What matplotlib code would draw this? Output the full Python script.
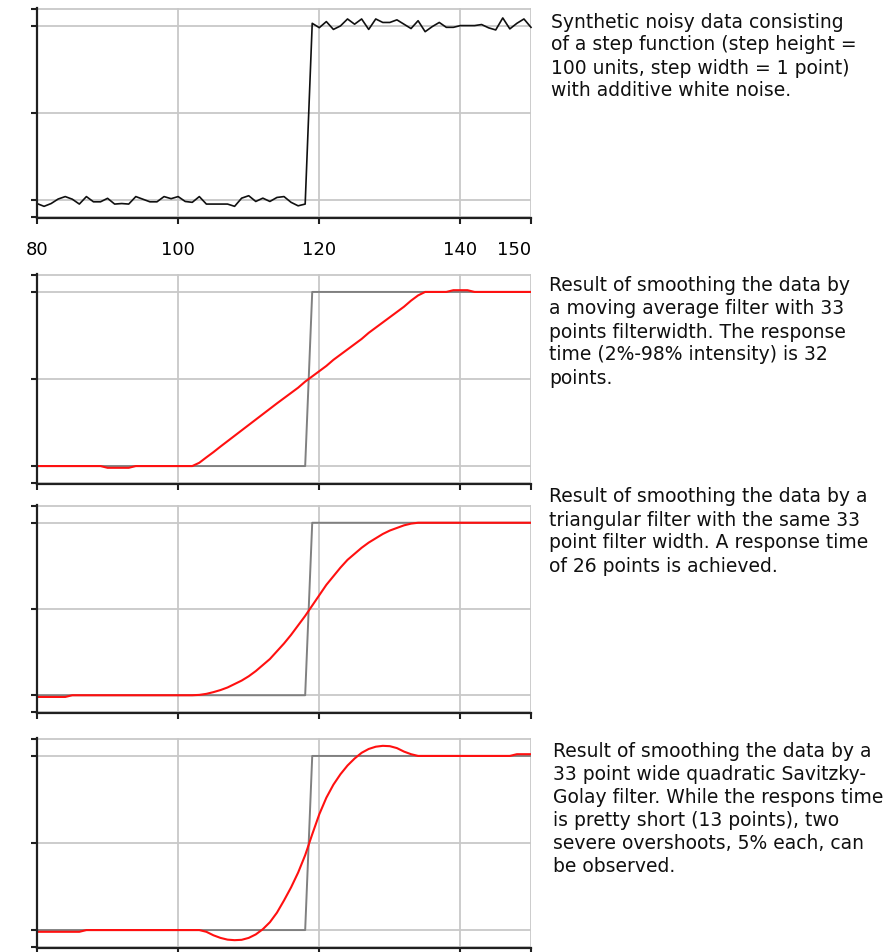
import matplotlib
matplotlib.use("Agg")
import matplotlib.pyplot as plt

plt.rcParams['font.family'] = ['DejaVu Sans']

# ---------------- data ----------------
x_points = list(range(80, 151))

noisy = [-2, -3.6, -2, 0.6, 2, 0.5, -2.3, 2, -1, -1,        # 80-89
         1, -2.3, -2, -2.3, 2, 0.5, -1, -1, 2, 0.8,          # 90-99
         2, -0.8, -1.3, 2, -2.3, -2.3, -2.3, -2.3, -3.6, 1.1,  # 100-109
         2.5, -0.8, 1.1, -0.8, 1.5, 2, -1.3, -3.3, -2.3, 101.5,  # 110-119
         99, 102.5, 98, 100, 104, 101, 104, 98, 104, 102,    # 120-129
         102, 103.5, 101, 98.5, 103, 96.7, 99.6, 102, 99.2, 99.2,  # 130-139
         100.2, 100.2, 100.2, 100.8, 98.9, 97.7, 104.6, 98.3, 101.5, 104,  # 140-149
         99.2]                                               # 150

step = [0] * 39 + [100] * 32   # 80-118 -> 0, 119-150 -> 100

moving_avg = [0, 0, 0, 0, 0, 0, 0, 0, 0, 0,                 # 80-89
              -1, -1, -1, -1, 0, 0, 0, 0, 0, 0,             # 90-99
              0, 0, 0, 1.9, 5, 8, 11.2, 14.3, 17.4, 20.5,   # 100-109
              23.6, 26.7, 29.8, 32.9, 36, 39, 42, 45, 48.5, 51.5,  # 110-119
              54.5, 57.5, 61, 64, 67, 70, 73, 76.5, 79.5, 82.5,    # 120-129
              85.5, 88.5, 91.5, 95, 98, 100, 100, 100, 100, 101,   # 130-139
              101, 101, 100, 100, 100, 100, 100, 100, 100, 100,    # 140-149
              100]

triangular = [-1, -1, -1, -1, -1, 0, 0, 0, 0, 0,            # 80-89
              0, 0, 0, 0, 0, 0, 0, 0, 0, 0,                 # 90-99
              0, 0, 0, 0.2, 0.8, 1.8, 3, 4.5, 6.5, 8.5,     # 100-109
              11, 14, 17.5, 21, 25.5, 30, 35, 40.5, 46, 52,  # 110-119
              58, 64, 69, 74, 78.5, 82, 85.5, 88.5, 91, 93.5,  # 120-129
              95.5, 97, 98.5, 99.5, 100, 100, 100, 100, 100, 100,  # 130-139
              100, 100, 100, 100, 100, 100, 100, 100, 100, 100,    # 140-149
              100]

savgol = [-1, -1, -1, -1, -1, -1, -1, 0, 0, 0,              # 80-89
          0, 0, 0, 0, 0, 0, 0, 0, 0, 0,                     # 90-99
          0, 0, 0, 0, -1, -3, -4.5, -5.5, -5.8, -5.6,       # 100-109
          -4.5, -2.5, 0.5, 4.5, 10, 17, 24.5, 33, 43, 55,   # 110-119
          66.5, 76, 83.5, 89.5, 94.5, 98.5, 101.8, 104, 105.3, 105.8,  # 120-129
          105.6, 104.5, 102.5, 101, 100, 100, 100, 100, 100, 100,      # 130-139
          100, 100, 100, 100, 100, 100, 100, 100, 101, 101,            # 140-149
          101]

x_ticks = [80, 100, 120, 140, 150]
x_tick_labels = ["80", "100", "120", "140", "150"]
y_ticks = [-10, 0, 50, 100, 110]

texts = [
    ["Synthetic noisy data consisting",
     "of a step function (step height =",
     "100 units, step width = 1 point)",
     "with additive white noise."],
    ["Result of smoothing the data by",
     "a moving average filter with 33",
     "points filterwidth. The response",
     "time (2%-98% intensity) is 32",
     "points."],
    ["Result of smoothing the data by a",
     "triangular filter with the same 33",
     "point filter width. A response time",
     "of 26 points is achieved."],
    ["Result of smoothing the data by a",
     "33 point wide quadratic Savitzky-",
     "Golay filter. While the respons time",
     "is pretty short (13 points), two",
     "severe overshoots, 5% each, can",
     "be observed."],
]

# ---------------- layout (pixels) ----------------
W, H = 888, 953
fig = plt.figure(figsize=(W / 100, H / 100), dpi=100)

panels_px = [(9, 219), (275, 485), (506, 714), (739, 949)]
left_px, right_px = 37, 531
text_x_px = [551, 549, 549, 553]
text_first_px = [22, 286, 497, 752]
line_step_px = 23

smooth_series = [None, moving_avg, triangular, savgol]

for i, (top, bot) in enumerate(panels_px):
    ax = fig.add_axes([left_px / W, 1 - bot / H, (right_px - left_px) / W, (bot - top) / H])
    ax.set_xlim(80, 150)
    ax.set_ylim(-10.3, 110.3)
    ax.set_xticks(x_ticks)
    ax.set_yticks(y_ticks)
    ax.set_yticklabels([])
    if i == 0:
        ax.set_xticklabels(x_tick_labels, fontsize=13)
        lbls = ax.get_xticklabels()
        lbls[-1].set_horizontalalignment('right')
        lbls[-1].set_x(151.3)
    else:
        ax.set_xticklabels([])
    ax.grid(True, color='#c8c8c8', linewidth=1.3)
    ax.set_axisbelow(True)
    for s in ['top', 'right']:
        ax.spines[s].set_visible(False)
    for s in ['left', 'bottom']:
        ax.spines[s].set_color('#202020')
        ax.spines[s].set_linewidth(1.6)
    ax.tick_params(axis='both', direction='out', length=4, width=1.5, color='#202020')
    ax.tick_params(axis='x', pad=12)

    if i == 0:
        ax.plot(x_points, noisy, color='#101010', linewidth=1.2, clip_on=False)
    else:
        ax.plot(x_points, step, color='#808080', linewidth=1.4)
        ax.plot(x_points, smooth_series[i], color='#ff1010', linewidth=1.5)

    for j, line in enumerate(texts[i]):
        y = text_first_px[i] + j * line_step_px
        fig.text(text_x_px[i] / W, 1 - y / H, line, fontsize=13.5, ha='left', va='center',
                 color='#101010')

fig.savefig("out.png", dpi=100)
